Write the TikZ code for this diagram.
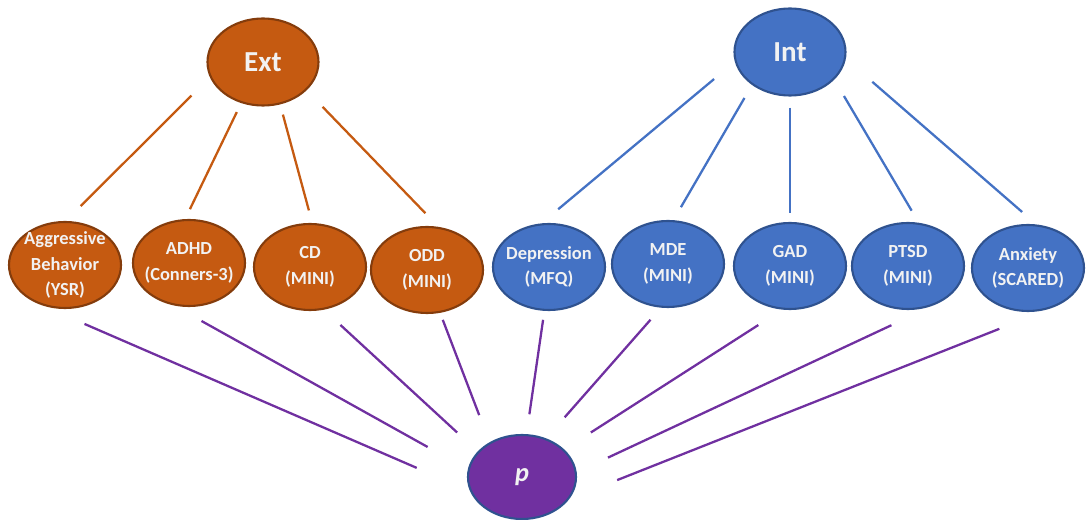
\documentclass[tikz,border=0pt]{standalone}
\usepackage{fontspec}
\setmainfont{Carlito}
\usetikzlibrary{shapes.geometric}

\definecolor{extfill}{HTML}{C55A11}
\definecolor{extedge}{HTML}{843C0C}
\definecolor{intfill}{HTML}{4472C4}
\definecolor{intedge}{HTML}{2F528F}
\definecolor{pfill}{HTML}{7030A0}
\definecolor{labelgray}{HTML}{F2F2F2}

\begin{document}
\begin{tikzpicture}[
  factor/.style={ellipse, line width=1.2pt, text=labelgray, align=center, inner sep=-10pt},
  extbox/.style={factor, fill=extfill, draw=extedge},
  intbox/.style={factor, fill=intfill, draw=intedge},
  lowsize/.style={minimum width=2.24cm, minimum height=1.72cm, font=\bfseries\fontsize{10.5}{14.5}\selectfont},
  topsize/.style={minimum width=2.22cm, minimum height=1.74cm, font=\bfseries\fontsize{16.5}{18}\selectfont},
  extline/.style={draw=extfill, line width=1.3pt},
  intline/.style={draw=intfill, line width=1.3pt},
  pline/.style={draw=pfill, line width=1.3pt}]

\useasboundingbox (0,0) rectangle (21.78,-10.40);

% general factors
\node[extbox,topsize] (ext) at (5.26,-1.24) {Ext};
\node[intbox,topsize] (int) at (15.80,-1.04) {Int};
\node[factor,fill=pfill,draw=intedge,minimum width=2.16cm,minimum height=1.68cm,
  font=\bfseries\itshape\fontsize{15}{18}\selectfont] (p) at (10.44,-9.54) {p};

% externalizing measures
\node[extbox,lowsize] (agg) at (1.30,-5.30) {Aggressive\\Behavior\\(YSR)};
\node[extbox,lowsize] (adhd) at (3.78,-5.26) {ADHD\\(Conners-3)};
\node[extbox,lowsize] (cd) at (6.20,-5.34) {CD\\(MINI)};
\node[extbox,lowsize] (odd) at (8.54,-5.40) {ODD\\(MINI)};

% internalizing measures
\node[intbox,lowsize] (dep) at (10.98,-5.34) {Depression\\(MFQ)};
\node[intbox,lowsize] (mde) at (13.36,-5.28) {MDE\\(MINI)};
\node[intbox,lowsize] (gad) at (15.80,-5.32) {GAD\\(MINI)};
\node[intbox,lowsize] (ptsd) at (18.16,-5.32) {PTSD\\(MINI)};
\node[intbox,lowsize] (anx) at (20.56,-5.36) {Anxiety\\(SCARED)};

% loadings on Ext
\draw[extline,shorten <=0.52cm,shorten >=0.42cm] (ext.196) -- (agg.89);
\draw[extline,shorten <=0.20cm,shorten >=0.22cm] (ext.242) -- (adhd.95);
\draw[extline,shorten <=0.21cm,shorten >=0.26cm] (ext.292) -- (cd.87);
\draw[extline,shorten <=0.46cm,shorten >=0.38cm] (ext.327) -- (odd.75);

% loadings on Int
\draw[intline,shorten <=0.54cm,shorten >=0.44cm] (int.190) -- (dep.100);
\draw[intline,shorten <=0.30cm,shorten >=0.30cm] (int.221) -- (mde.83);
\draw[intline,shorten <=0.22cm,shorten >=0.18cm] (int.270) -- (gad.90);
\draw[intline,shorten <=0.38cm,shorten >=0.28cm] (int.328) -- (ptsd.76);
\draw[intline,shorten <=0.70cm,shorten >=0.38cm] (int.353) -- (anx.79);

% loadings on p
\draw[pline,shorten <=1.00cm,shorten >=1.16cm] (agg.236) -- (p.195);
\draw[pline,shorten <=0.64cm,shorten >=0.92cm] (adhd.250) -- (p.172);
\draw[pline,shorten <=0.45cm,shorten >=0.56cm] (cd.288) -- (p.150);
\draw[pline,shorten <=0.15cm,shorten >=0.58cm] (odd.287) -- (p.133);
\draw[pline,shorten <=0.18cm,shorten >=0.40cm] (dep.264) -- (p.84);
\draw[pline,shorten <=0.32cm,shorten >=0.56cm] (mde.261) -- (p.58);
\draw[pline,shorten <=0.57cm,shorten >=0.63cm] (gad.260) -- (p.33);
\draw[pline,shorten <=1.00cm,shorten >=0.69cm] (ptsd.307) -- (p.5);
\draw[pline,shorten <=1.20cm,shorten >=1.03cm] (anx.305) -- (p.335);
\end{tikzpicture}
\end{document}
